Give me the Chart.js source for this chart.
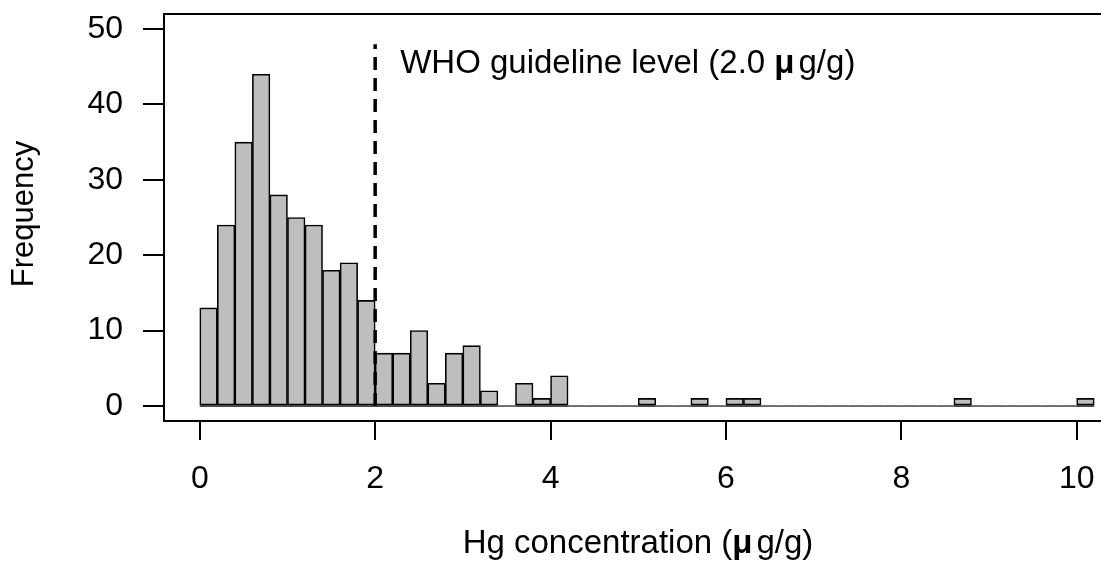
<!DOCTYPE html>
<html>
<head>
<meta charset="utf-8">
<script src="https://cdn.jsdelivr.net/npm/chart.js@4.4.1/dist/chart.umd.min.js"></script>
<style>
  html, body { margin: 0; padding: 0; background: #fff; overflow: hidden; }
  #wrap { width: 1140px; height: 563px; }
</style>
</head>
<body>
<div id="wrap"><canvas id="histChart" width="1140" height="563"></canvas></div>
<script>
// Hg concentration histogram, bins of 0.2 (midpoints)
var binMids = [0.1, 0.3, 0.5, 0.7, 0.9, 1.1, 1.3, 1.5, 1.7, 1.9,
               2.1, 2.3, 2.5, 2.7, 2.9, 3.1, 3.3, 3.5, 3.7, 3.9,
               4.1, 4.3, 4.5, 4.7, 4.9, 5.1, 5.3, 5.5, 5.7, 5.9,
               6.1, 6.3, 6.5, 6.7, 6.9, 7.1, 7.3, 7.5, 7.7, 7.9,
               8.1, 8.3, 8.5, 8.7, 8.9, 9.1, 9.3, 9.5, 9.7, 9.9,
               10.1];
var counts = [13, 24, 35, 44, 28, 25, 24, 18, 19, 14,
              7, 7, 10, 3, 7, 8, 2, 0, 3, 1,
              4, 0, 0, 0, 0, 1, 0, 0, 1, 0,
              1, 1, 0, 0, 0, 0, 0, 0, 0, 0,
              0, 0, 0, 1, 0, 0, 0, 0, 0, 0,
              1];
var binRange = [0, 10.2];
var xTicks = [0, 2, 4, 6, 8, 10];
var yTicks = [0, 10, 20, 30, 40, 50];
var whoLevel = 2.0;
var whoTop = 48;

var FONT = '"Liberation Sans", Arial, sans-serif';
var tickSize = 32;

function richText(ctx, parts, x, y, align, size) {
    var total = 0;
    parts.forEach(function(p) {
        ctx.font = (p[1] ? 'bold ' : '') + size + 'px ' + FONT;
        total += ctx.measureText(p[0]).width + (p[2] || 0);
    });
    var cx = align == 'center' ? x - total / 2 : x;
    parts.forEach(function(p) {
        ctx.font = (p[1] ? 'bold ' : '') + size + 'px ' + FONT;
        ctx.fillText(p[0], cx, y);
        cx += ctx.measureText(p[0]).width + (p[2] || 0);
    });
}

var decorPlugin = {
    id: 'decor',
    afterDraw: function(chart) {
        var ctx = chart.ctx;
        var a = chart.chartArea;
        var xs = chart.scales.x, ys = chart.scales.y;
        ctx.save();
        // box round plot region
        ctx.strokeStyle = '#000';
        ctx.lineWidth = 2;
        ctx.strokeRect(a.left, a.top, a.right - a.left, a.bottom - a.top);

        ctx.fillStyle = '#000';
        ctx.textBaseline = 'alphabetic';
        ctx.textAlign = 'left';
        // guideline label
        richText(ctx, [['WHO guideline level (2.0 ', false], ['\u03bc', true, 4], ['g/g)', false]],
                 xs.getPixelForValue(whoLevel) + 25, ys.getPixelForValue(44.2), 'left', 33);
        // x title
        richText(ctx, [['Hg concentration (', false], ['\u03bc', true, 4], ['g/g)', false]],
                 638, 553, 'center', 33);
        // y title
        ctx.translate(33, 214);
        ctx.rotate(-Math.PI / 2);
        ctx.font = '31px ' + FONT;
        ctx.textAlign = 'center';
        ctx.fillText('Frequency', 0, 0);
        ctx.restore();
    }
};

var ctx = document.getElementById('histChart').getContext('2d');
var histChart = new Chart(ctx, {
    type: 'bar',
    data: {
        datasets: [{
            type: 'line',
            data: [{x: whoLevel, y: 0}, {x: whoLevel, y: whoTop}],
            borderColor: '#000',
            borderWidth: 3.5,
            borderDash: [13, 8],
            pointRadius: 0
        }, {
            type: 'bar',
            data: binMids.map(function(m, i) { return {x: m, y: counts[i]}; }),
            backgroundColor: '#bebebe',
            borderColor: '#000',
            borderWidth: function(c) { return c.raw && c.raw.y > 0 ? 1.6 : 0; },
            borderSkipped: false,
            barPercentage: 1,
            categoryPercentage: 1
        }, {
            type: 'line',
            data: [{x: binRange[0], y: 0}, {x: binRange[1], y: 0}],
            borderColor: '#111',
            borderWidth: 1.5,
            pointRadius: 0
        }]
    },
    options: {
        responsive: false,
        animation: false,
        layout: { padding: { left: 0, top: 14, right: 10, bottom: 0 } },
        plugins: { legend: { display: false }, tooltip: { enabled: false } },
        scales: {
            x: {
                type: 'linear',
                min: -0.408,
                max: 10.608,
                offset: false,
                afterBuildTicks: function(s) { s.ticks = xTicks.map(function(v) { return {value: v}; }); },
                afterFit: function(s) { s.height = 142; s.paddingLeft = 0; s.paddingRight = 0; },
                grid: { offset: false, drawOnChartArea: false, tickLength: 19, color: '#000', lineWidth: 2 },
                border: { display: false },
                ticks: { color: '#000', padding: 20, maxRotation: 0, font: { family: FONT, size: tickSize } }
            },
            y: {
                min: -2,
                max: 52,
                afterBuildTicks: function(s) { s.ticks = yTicks.map(function(v) { return {value: v}; }); },
                afterFit: function(s) { s.width = 164; s.paddingTop = 0; s.paddingBottom = 0; },
                grid: { drawOnChartArea: false, tickLength: 21, color: '#000', lineWidth: 2 },
                border: { display: false },
                ticks: { color: '#000', padding: 20, font: { family: FONT, size: tickSize } }
            }
        }
    },
    plugins: [decorPlugin]
});
</script>
</body>
</html>
